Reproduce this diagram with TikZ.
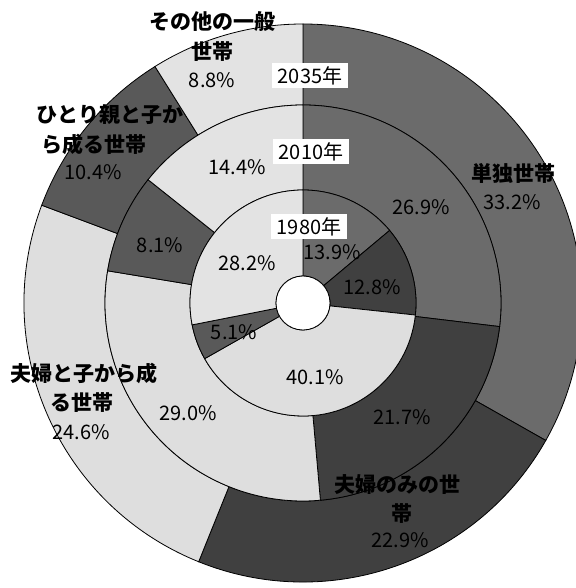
\documentclass[tikz,border=0pt]{standalone}
\usepackage{fontspec}
\setmainfont{Noto Sans CJK JP}
\begin{document}
\begin{tikzpicture}[x=1pt,y=1pt,
  seg/.style={draw=black,line width=0.8pt},
  lbl/.style={font=\fontsize{20}{24}\selectfont,inner sep=0pt},
  cat/.style={font=\fontsize{21}{25}\selectfont\bfseries,inner sep=0pt},
  yearbox/.style={fill=white,font=\fontsize{20}{24}\selectfont,inner xsep=6pt,inner ysep=1pt,minimum height=25pt}]
\useasboundingbox (-303,-285) rectangle (272,303);
\definecolor{single}{gray}{0.42}
\definecolor{couple}{gray}{0.25}
\definecolor{family}{gray}{0.87}
\definecolor{parent}{gray}{0.35}
\definecolor{other}{gray}{0.89}

\filldraw[seg,fill=single] (90:279pt) arc[start angle=90,end angle=-29.52,radius=279pt] -- (-29.52:198pt) arc[start angle=-29.52,end angle=90,radius=198pt] -- cycle;
\filldraw[seg,fill=couple] (-29.52:279pt) arc[start angle=-29.52,end angle=-111.96,radius=279pt] -- (-111.96:198pt) arc[start angle=-111.96,end angle=-29.52,radius=198pt] -- cycle;
\filldraw[seg,fill=family] (-111.96:279pt) arc[start angle=-111.96,end angle=-200.52,radius=279pt] -- (-200.52:198pt) arc[start angle=-200.52,end angle=-111.96,radius=198pt] -- cycle;
\filldraw[seg,fill=parent] (-200.52:279pt) arc[start angle=-200.52,end angle=-237.96,radius=279pt] -- (-237.96:198pt) arc[start angle=-237.96,end angle=-200.52,radius=198pt] -- cycle;
\filldraw[seg,fill=other] (-237.96:279pt) arc[start angle=-237.96,end angle=-270,radius=279pt] -- (-270:198pt) arc[start angle=-270,end angle=-237.96,radius=198pt] -- cycle;

\filldraw[seg,fill=single] (90:198pt) arc[start angle=90,end angle=-6.84,radius=198pt] -- (-6.84:113pt) arc[start angle=-6.84,end angle=90,radius=113pt] -- cycle;
\filldraw[seg,fill=couple] (-6.84:198pt) arc[start angle=-6.84,end angle=-84.96,radius=198pt] -- (-84.96:113pt) arc[start angle=-84.96,end angle=-6.84,radius=113pt] -- cycle;
\filldraw[seg,fill=family] (-84.96:198pt) arc[start angle=-84.96,end angle=-189.36,radius=198pt] -- (-189.36:113pt) arc[start angle=-189.36,end angle=-84.96,radius=113pt] -- cycle;
\filldraw[seg,fill=parent] (-189.36:198pt) arc[start angle=-189.36,end angle=-218.52,radius=198pt] -- (-218.52:113pt) arc[start angle=-218.52,end angle=-189.36,radius=113pt] -- cycle;
\filldraw[seg,fill=other] (-218.52:198pt) arc[start angle=-218.52,end angle=-270,radius=198pt] -- (-270:113pt) arc[start angle=-270,end angle=-218.52,radius=113pt] -- cycle;

\filldraw[seg,fill=single] (90:113pt) arc[start angle=90,end angle=39.96,radius=113pt] -- (39.96:27pt) arc[start angle=39.96,end angle=90,radius=27pt] -- cycle;
\filldraw[seg,fill=couple] (39.96:113pt) arc[start angle=39.96,end angle=-6.12,radius=113pt] -- (-6.12:27pt) arc[start angle=-6.12,end angle=39.96,radius=27pt] -- cycle;
\filldraw[seg,fill=family] (-6.12:113pt) arc[start angle=-6.12,end angle=-150.48,radius=113pt] -- (-150.48:27pt) arc[start angle=-150.48,end angle=-6.12,radius=27pt] -- cycle;
\filldraw[seg,fill=parent] (-150.48:113pt) arc[start angle=-150.48,end angle=-168.84,radius=113pt] -- (-168.84:27pt) arc[start angle=-168.84,end angle=-150.48,radius=27pt] -- cycle;
\filldraw[seg,fill=other] (-168.84:113pt) arc[start angle=-168.84,end angle=-270,radius=113pt] -- (-270:27pt) arc[start angle=-270,end angle=-168.84,radius=27pt] -- cycle;
\filldraw[seg,fill=white] (0,0) circle[radius=27pt];

\node[yearbox] (y2035) at (7,227) {2035年};
\node[yearbox] (y2010) at (8,151) {2010年};
\node[yearbox] (y1980) at (6,76) {1980年};

\node[cat] (otherA) at (-90,281) {その他の一般};
\node[cat] (otherB) at (-90,251) {世帯};
\node[lbl] (other35) at (-91,223) {8.8\%};
\node[lbl] (other10) at (-66,136) {14.4\%};
\node[lbl] (other80) at (-56,40) {28.2\%};

\node[cat] (parentA) at (-193,188) {ひとり親と子か};
\node[cat] (parentB) at (-209,158) {ら成る世帯};
\node[lbl] (parent35) at (-210,131) {10.4\%};
\node[lbl] (parent10) at (-143,58) {8.1\%};
\node[lbl] (parent80) at (-69,-29) {5.1\%};

\node[cat] (singleA) at (210,130) {単独世帯};
\node[lbl] (single35) at (209,101) {33.2\%};
\node[lbl] (single10) at (118,96) {26.9\%};
\node[lbl] (single80) at (29,51) {13.9\%};

\node[lbl] (couple80) at (69,16) {12.8\%};
\node[lbl] (couple10) at (99,-114) {21.7\%};
\node[cat] (coupleA) at (94,-182) {夫婦のみの世};
\node[cat] (coupleB) at (99,-210) {帯};
\node[lbl] (couple35) at (97,-237) {22.9\%};

\node[cat] (familyA) at (-219,-70) {夫婦と子から成};
\node[cat] (familyB) at (-221,-100) {る世帯};
\node[lbl] (family35) at (-222,-129) {24.6\%};
\node[lbl] (family10) at (-115,-110) {29.0\%};
\node[lbl] (family80) at (12,-74) {40.1\%};
\end{tikzpicture}
\end{document}
